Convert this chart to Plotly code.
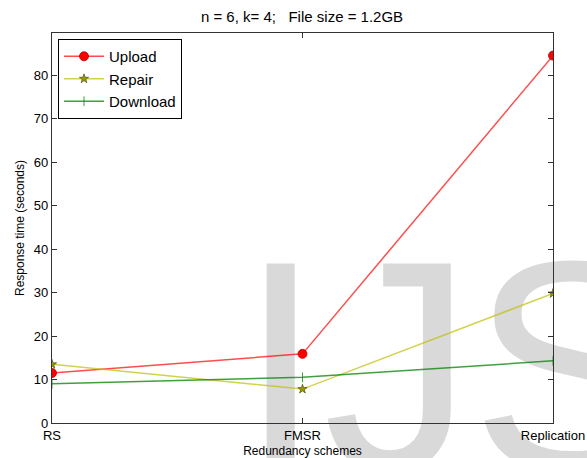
import plotly.graph_objects as go

# Redundancy schemes compared
schemes = ["RS", "FMSR", "Replication"]

# Response times in seconds
upload = [11.5, 15.9, 84.5]
repair = [13.5, 7.8, 29.8]
download = [9.0, 10.5, 14.3]

y_ticks = [0, 10, 20, 30, 40, 50, 60, 70, 80]

FONT = "Liberation Sans, Arial, sans-serif"

# figure / plot-area geometry in pixels
W, H = 587, 458
L, R, T, B = 52, 34, 33, 35
PW, PH = W - L - R, H - T - B
Y_MAX = 89.7
X_MAX = len(schemes) - 1

xpos = list(range(len(schemes)))


def data_x(px):
    return (px - L) / PW * X_MAX


def data_y(py):
    return (H - B - py) / PH * Y_MAX


fig = go.Figure()

# large background lettering, drawn first so the data sits on top;
# each anchor stays inside the axes and its letter hangs below it
mark_letters = ["I", "J", "S"]
mark_px = [239, 323, 471]
fig.add_trace(go.Scatter(
    x=[data_x(p) for p in mark_px], y=[data_y(245)] * 3,
    mode="text", text=mark_letters,
    textposition="bottom right", cliponaxis=False, hoverinfo="skip",
    showlegend=False,
    textfont=dict(family="Liberation Sans", size=300, color="#d9d9d9"),
))

fig.add_trace(go.Scatter(
    x=xpos, y=upload, name="Upload", mode="lines+markers",
    line=dict(color="rgba(255,0,0,0.7)", width=1.5),
    marker=dict(symbol="circle", size=9, color="#ff0000",
                line=dict(color="#b00000", width=0.8)),
))
fig.add_trace(go.Scatter(
    x=xpos, y=repair, name="Repair", mode="lines+markers",
    line=dict(color="rgba(191,191,0,0.7)", width=1.5),
    marker=dict(symbol="star", size=7, color="#9a9a00",
                line=dict(color="#404000", width=0.6)),
))
fig.add_trace(go.Scatter(
    x=xpos, y=download, name="Download", mode="lines+markers",
    line=dict(color="rgba(0,128,0,0.75)", width=1.5),
    marker=dict(symbol="line-ns", size=7, color="#008000",
                line=dict(color="rgba(0,128,0,0.75)", width=1)),
))

fig.update_layout(
    width=W, height=H,
    margin=dict(l=L, r=R, t=T, b=B, autoexpand=False),
    paper_bgcolor="white",
    plot_bgcolor="white",
    font=dict(family=FONT, size=13, color="black"),
    title=dict(text="n = 6, k= 4;\u00a0\u00a0\u00a0File size = 1.2GB",
               x=(302) / W, xanchor="center", xref="container",
               y=1 - 17 / H, yanchor="middle", font=dict(size=15)),
    legend=dict(
        x=(58 - L) / PW, y=(H - B - 39) / PH, xanchor="left", yanchor="top",
        bordercolor="black", borderwidth=1, bgcolor="white",
        font=dict(size=15), tracegroupgap=0, itemwidth=40,
    ),
    showlegend=True,
)

fig.update_xaxes(
    range=[0, X_MAX], tickvals=xpos, ticktext=schemes,
    showgrid=False, zeroline=False, automargin=False,
    showline=True, linecolor="#333", linewidth=1.2, mirror="allticks",
    ticks="inside", ticklen=5, tickcolor="#333",
    title=dict(text="Redundancy schemes", font=dict(size=12), standoff=4),
    tickfont=dict(size=13),
)
fig.update_yaxes(
    range=[0, Y_MAX], tickvals=y_ticks, showgrid=False, zeroline=False,
    automargin=False,
    showline=True, linecolor="#333", linewidth=1.2, mirror="allticks",
    ticks="inside", ticklen=5, tickcolor="#333",
    title=dict(text="Response time (seconds)", font=dict(size=12), standoff=6),
    tickfont=dict(size=13),
)

fig.write_html("out.html")
